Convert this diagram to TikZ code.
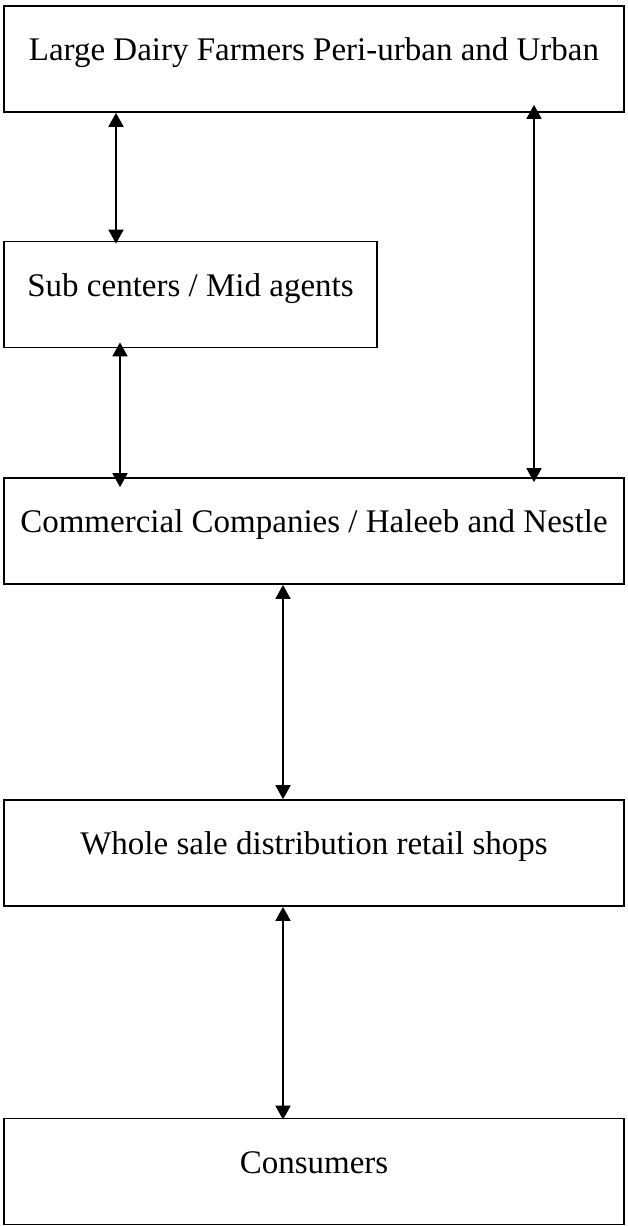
\documentclass[tikz,border=0pt]{standalone}
\usepackage{fontspec}
\setmainfont{Liberation Serif}
\usetikzlibrary{positioning,arrows.meta}
\tikzset{
chainbox/.style={draw=black,line width=1.7pt,minimum height=106pt,inner sep=0pt,
font=\fontsize{33}{39}\selectfont,text height=22pt,text depth=19pt,anchor=center},
widebox/.style={chainbox,minimum width=620pt},
flowarrow/.style={{Triangle[length=14pt,width=15pt]}-{Triangle[length=14pt,width=15pt]},line width=1.8pt,black}
}
\begin{document}
\begin{tikzpicture}[x=1pt,y=-1pt]
\useasboundingbox (0,0) rectangle (627,1226);
\node[widebox] (farmers) at (314,59) {Large Dairy Farmers Peri-urban and Urban};
\node[chainbox,minimum width=373pt] (subcenters) at (190.5,294.5) {Sub centers / Mid agents};
\node[widebox] (companies) at (314,531) {Commercial Companies / Haleeb and Nestle};
\node[widebox] (wholesale) at (314,853) {Whole sale distribution retail shops};
\node[widebox] (consumers) at (314,1171.5) {Consumers};
% links between the levels
\draw[flowarrow] ([xshift=-198pt]farmers.south) -- ([xshift=-74.5pt,yshift=-3pt]subcenters.north);
\draw[flowarrow] ([xshift=220pt,yshift=8pt]farmers.south) -- ([xshift=220pt,yshift=-5pt]companies.north);
\draw[flowarrow] ([xshift=-70.5pt,yshift=6pt]subcenters.south) -- ([xshift=-194pt,yshift=-10pt]companies.north);
\draw[flowarrow] ([xshift=-31pt]companies.south) -- ([xshift=-31pt]wholesale.north);
\draw[flowarrow] ([xshift=-31pt]wholesale.south) -- ([xshift=-31pt,yshift=-2pt]consumers.north);
\end{tikzpicture}
\end{document}
